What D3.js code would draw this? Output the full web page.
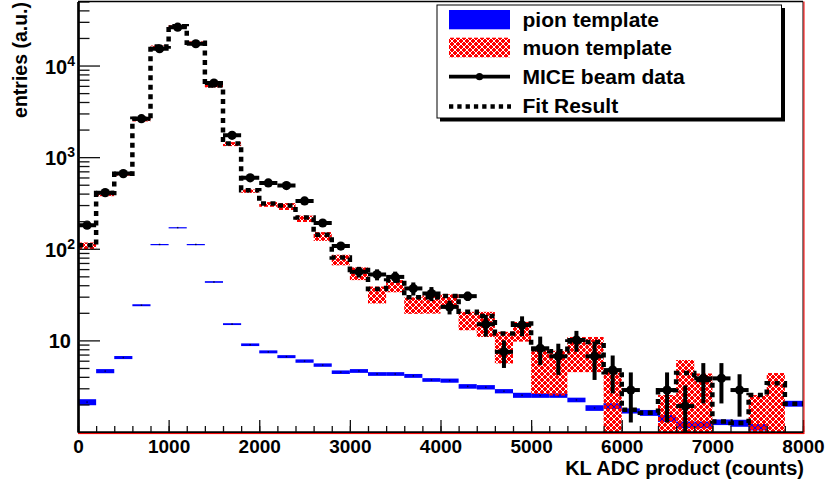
<!DOCTYPE html>
<html lang="en">
<head>
<meta charset="UTF-8">
<title>KL ADC product</title>
<script src="https://d3js.org/d3.v7.min.js"></script>
<style>
  body { margin: 0; background: #fff; }
  svg text { font-family: "Liberation Sans", Arial, sans-serif; font-weight: bold; fill: #000; }
</style>
</head>
<body>
<svg id="chart" width="830" height="487"></svg>
<script>
// bin lower edges, width 200 counts
const binLow = [0, 200, 400, 600, 800, 1000, 1200, 1400, 1600, 1800,
    2000, 2200, 2400, 2600, 2800, 3000, 3200, 3400, 3600, 3800,
    4000, 4200, 4400, 4600, 4800, 5000, 5200, 5400, 5600, 5800,
    6000, 6200, 6400, 6600, 6800, 7000, 7200, 7400, 7600, 7800];
const binWidth = 200;

// MICE beam data (0 = empty bin)
const dataVal = [181, 410, 661, 2630, 15250, 26200, 17300, 6430, 1730, 595,
    523, 490, 333, 191, 107, 56, 52.4, 49.3, 36.9, 32.5,
    23.2, 30.4, 15, 7.5, 14.7, 8.2, 6.7, 10.1, 6.7, 4.74,
    2.87, 0, 2.87, 1.92, 3.85, 3.85, 2.87, 0, 0, 0];
const dataErr = [13, 20, 26, 51, 123, 162, 132, 80, 42, 24,
    23, 22, 18, 14, 10, 7.5, 7.2, 7, 6, 5.7,
    4, 3.5, 4, 2.5, 3.6, 2.8, 2.5, 2.6, 3, 2.1,
    1.6, 0, 1.6, 1.3, 1.8, 1.8, 1.4, 0, 0, 0];

// muon template
const muonVal = [107, 401, 655, 2600, 16040, 26730, 17590, 6030, 1390, 426,
    305, 290, 213, 137, 76, 54, 32, 39.5, 24.5, 25.3,
    27, 16.7, 15.7, 9, 12.8, 5.2, 5.1, 7.7, 7.7, 2.4,
    0, 0, 1.4, 3.1, 2.3, 0, 0, 1.4, 2.2, 0];
const muonErr = [10, 26, 27, 146, 500, 700, 750, 250, 70, 18,
    18, 25, 17, 15, 10, 8.5, 6.7, 6, 5, 5.7,
    4.8, 3.8, 4.8, 3.4, 3.1, 2.6, 2.6, 3.2, 3.2, 2.1,
    0, 0, 1.13, 3.0, 2.05, 0, 0, 1.13, 2.2, 0];

// pion template
const pionVal = [2.12, 4.62, 6.5, 24.2, 111.5, 170, 111.5, 43.4, 15.05, 8.97,
    7.5, 6.65, 5.95, 5.38, 4.5, 4.64, 4.3, 4.3, 4.1, 3.7,
    3.64, 3.15, 3.08, 2.79, 2.52, 2.5, 2.5, 2.24, 1.83, 1.92,
    1.7, 1.62, 1.41, 1.2, 1.2, 1.28, 1.25, 1.13, 0, 2.04];
const pionErr = [0.16, 0.24, 0.25, 0.6, 1.2, 2, 1.2, 0.9, 0.35, 0.3,
    0.28, 0.25, 0.25, 0.23, 0.2, 0.22, 0.2, 0.2, 0.2, 0.17,
    0.19, 0.18, 0.17, 0.15, 0.16, 0.14, 0.14, 0.13, 0.13, 0.14,
    0.11, 0.12, 0.12, 0.1, 0.1, 0.09, 0.11, 0.09, 0, 0.15];

// fit result
const fitVal = [109, 406, 661, 2630, 16150, 26900, 17700, 6070, 1406, 435,
    312, 297, 219, 142, 80.5, 58.6, 36.3, 45, 29.5, 29.5,
    30.6, 20.5, 18.5, 11.9, 15.3, 8, 7.6, 9.7, 9.6, 4.5,
    1.75, 1.62, 2.85, 4.4, 3.7, 1.3, 1.25, 2.53, 3.4, 2.04];

const xMajor = [0, 1000, 2000, 3000, 4000, 5000, 6000, 7000, 8000];
const yMajor = [10, 100, 1000, 10000];
const yLabelExp = {10: "", 100: "2", 1000: "3", 10000: "4"};
const legendLabels = ["pion template", "muon template", "MICE beam data", "Fit Result"];

const svg = d3.select("#chart");
const L = 78, R = 803, T = 1.5, B = 432;
const x = d3.scaleLinear().domain([0, 8000]).range([L, R]);
const y = d3.scaleLog().domain([1, 5e4]).range([B, T]);
const yc = v => v <= 0 ? B + 20 : y(v);

const defs = svg.append("defs");
defs.append("clipPath").attr("id", "plotclip")
    .append("rect").attr("x", L).attr("y", T).attr("width", R - L).attr("height", B - T);

// red hatch pattern, white cells left transparent
const hatch = defs.append("pattern").attr("id", "hatch")
    .attr("patternUnits", "userSpaceOnUse").attr("width", 6).attr("height", 6);
for (let i = 0; i < 6; i++) {
    for (let j = 0; j < 6; j++) {
        if ((i + j) % 6 === 0 || (i - j + 6) % 6 === 3) continue;
        hatch.append("rect").attr("x", i).attr("y", j).attr("width", 1).attr("height", 1)
            .attr("fill", "#ff0000").attr("shape-rendering", "crispEdges");
    }
}

const plot = svg.append("g").attr("clip-path", "url(#plotclip)");

// pion template boxes
binLow.forEach((lo, i) => {
    if (pionVal[i] <= 0) return;
    const y0 = yc(pionVal[i] + pionErr[i]), y1 = yc(pionVal[i] - pionErr[i]);
    plot.append("rect")
        .attr("x", x(lo)).attr("width", x(lo + binWidth) - x(lo))
        .attr("y", y0).attr("height", Math.max(1.2, y1 - y0))
        .attr("fill", "#0000ff");
    plot.append("rect")
        .attr("x", x(lo + binWidth / 2) - 0.75).attr("y", y(pionVal[i]) - 0.75)
        .attr("width", 1.5).attr("height", 1.5).attr("fill", "#000").attr("opacity", 0.7);
});

// muon template boxes
binLow.forEach((lo, i) => {
    if (muonVal[i] <= 0) return;
    const y0 = yc(muonVal[i] + muonErr[i]), y1 = yc(muonVal[i] - muonErr[i]);
    plot.append("rect")
        .attr("x", x(lo)).attr("width", x(lo + binWidth) - x(lo))
        .attr("y", y0).attr("height", Math.max(2, y1 - y0))
        .attr("fill", "url(#hatch)");
});

// fit result step line
const fitPts = binLow.map((lo, i) => [lo, fitVal[i]]);
fitPts.push([8000, fitVal[fitVal.length - 1]]);
plot.append("path")
    .attr("d", d3.line().x(d => x(d[0])).y(d => y(d[1])).curve(d3.curveStepAfter)(fitPts))
    .attr("fill", "none").attr("stroke", "#000")
    .attr("stroke-width", 4.5).attr("stroke-dasharray", "5,4.5");

// data points with error bars
const dataG = plot.append("g").attr("stroke", "#000").attr("stroke-width", 4);
binLow.forEach((lo, i) => {
    if (dataVal[i] <= 0) return;
    const cx = x(lo + binWidth / 2), cy = y(dataVal[i]);
    dataG.append("line").attr("x1", x(lo)).attr("x2", x(lo + binWidth)).attr("y1", cy).attr("y2", cy);
    dataG.append("line").attr("x1", cx).attr("x2", cx)
        .attr("y1", yc(dataVal[i] + dataErr[i])).attr("y2", yc(dataVal[i] - dataErr[i]));
    plot.append("circle").attr("cx", cx).attr("cy", cy).attr("r", 4.6).attr("fill", "#000");
});

// axes
const xAxisMinor = d3.axisBottom(x).tickValues(x.ticks(40)).tickSize(-6).tickSizeOuter(0).tickFormat("");
const xAxis = d3.axisBottom(x).tickValues(xMajor).tickSize(-12).tickSizeOuter(0).tickPadding(7.5)
    .tickFormat(d3.format("d"));
const yMinorVals = y.ticks().filter(v => yMajor.indexOf(v) < 0 && v > 1);
const yAxisMinor = d3.axisLeft(y).tickValues(yMinorVals).tickSize(-11.5).tickSizeOuter(0).tickFormat("");
const yAxis = d3.axisLeft(y).tickValues(yMajor).tickSize(-22).tickSizeOuter(0).tickPadding(5).tickFormat("");

svg.append("g").attr("transform", `translate(0,${B})`).call(xAxisMinor);
const gx = svg.append("g").attr("transform", `translate(0,${B})`).call(xAxis);
svg.append("g").attr("transform", `translate(${L},0)`).call(yAxisMinor);
const gy = svg.append("g").attr("transform", `translate(${L},0)`).call(yAxis);

svg.selectAll(".tick line").attr("stroke", "#111").attr("stroke-width", 1.3);
svg.selectAll(".domain").attr("stroke", "#000").attr("stroke-width", 2.2);
gx.selectAll("text").style("font-size", "19px").attr("font-family", null);

gy.selectAll(".tick text").each(function (d) {
    const t = d3.select(this).attr("x", -3).attr("dy", null).attr("y", 7.5)
        .style("font-size", "20px").attr("font-family", null);
    t.text(null);
    t.append("tspan").text("10");
    if (yLabelExp[d]) {
        t.append("tspan").attr("dy", -8).style("font-size", "14px").text(yLabelExp[d]);
    } else {
        t.attr("x", -7);
    }
});

// frame top / right
svg.append("line").attr("x1", L).attr("x2", R).attr("y1", T).attr("y2", T)
    .attr("stroke", "#000").attr("stroke-width", 1.3);
svg.append("line").attr("x1", R).attr("x2", R).attr("y1", T).attr("y2", B)
    .attr("stroke", "#000").attr("stroke-width", 1);
svg.append("line").attr("x1", R + 1).attr("x2", R + 1).attr("y1", T).attr("y2", B + 2)
    .attr("stroke", "#ff0000").attr("stroke-width", 1);
svg.append("line").attr("x1", L).attr("x2", R + 1).attr("y1", B + 1.6).attr("y2", B + 1.6)
    .attr("stroke", "#ff0000").attr("stroke-width", 1);

// axis titles
svg.append("text").attr("x", 804).attr("y", 475).attr("text-anchor", "end")
    .style("font-size", "20px").text("KL ADC product (counts)");
svg.append("text").attr("transform", "translate(27,2) rotate(-90)").attr("text-anchor", "end")
    .style("font-size", "19.5px").text("entries (a.u.)");

// legend
const lg = svg.append("g");
lg.append("rect").attr("x", 440).attr("y", 8).attr("width", 345).attr("height", 113.5).attr("fill", "#000");
lg.append("rect").attr("x", 437).attr("y", 5).attr("width", 344.5).attr("height", 113)
    .attr("fill", "#fff").attr("stroke", "#000").attr("stroke-width", 1);
const rowY = [19.7, 47.7, 76.7, 106.5];
const rowBase = [26.5, 55, 84, 112.7];
lg.append("rect").attr("x", 449).attr("y", 10).attr("width", 61).attr("height", 19.3).attr("fill", "#0000ff");
lg.append("rect").attr("x", 449).attr("y", 37.7).attr("width", 61).attr("height", 19.6).attr("fill", "url(#hatch)");
lg.append("line").attr("x1", 449).attr("x2", 510).attr("y1", rowY[2]).attr("y2", rowY[2])
    .attr("stroke", "#000").attr("stroke-width", 3.7);
lg.append("circle").attr("cx", 479.5).attr("cy", rowY[2]).attr("r", 3.6).attr("fill", "#000");
lg.append("line").attr("x1", 449).attr("x2", 511).attr("y1", rowY[3]).attr("y2", rowY[3])
    .attr("stroke", "#000").attr("stroke-width", 4.3).attr("stroke-dasharray", "4.3,4");
legendLabels.forEach((s, i) => {
    lg.append("text").attr("x", 522.5).attr("y", rowBase[i])
        .style("font-size", "21px").text(s);
});
</script>
</body>
</html>
